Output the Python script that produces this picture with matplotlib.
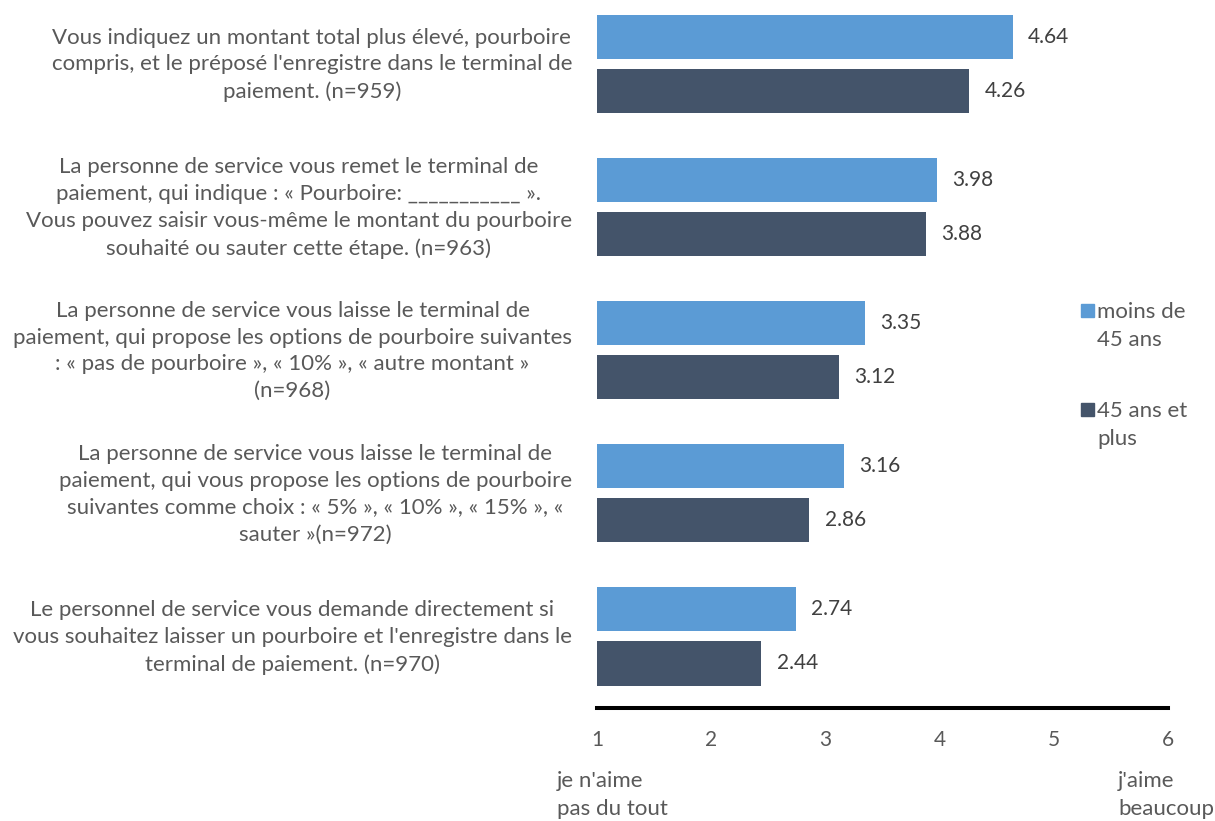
import numpy as np
import matplotlib
matplotlib.use("Agg")
import matplotlib.pyplot as plt
from matplotlib.patches import Rectangle
from matplotlib.transforms import ScaledTranslation

plt.rcParams['font.family'] = ['Lato', 'DejaVu Sans']

# Survey items (top to bottom) and mean scores per age group
questions = [
    "Vous indiquez un montant total plus élevé, pourboire\ncompris, et le préposé l'enregistre dans le terminal de\npaiement. (n=959)",
    "La personne de service vous remet le terminal de\npaiement, qui indique : « Pourboire: ___________ ».\nVous pouvez saisir vous-même le montant du pourboire\nsouhaité ou sauter cette étape. (n=963)",
    "La personne de service vous laisse le terminal de\npaiement, qui propose les options de pourboire suivantes\n: « pas de pourboire », « 10% », « autre montant »\n(n=968)",
    "La personne de service vous laisse le terminal de\npaiement, qui vous propose les options de pourboire\nsuivantes comme choix : « 5% », « 10% », « 15% », «\nsauter »(n=972)",
    "Le personnel de service vous demande directement si\nvous souhaitez laisser un pourboire et l'enregistre dans le\nterminal de paiement. (n=970)",
]
under_45 = [4.64, 3.98, 3.35, 3.16, 2.74]
over_45 = [4.26, 3.88, 3.12, 2.86, 2.44]
series_names = ["moins de\n45 ans", "45 ans et\nplus"]
colors = ["#5B9BD5", "#44546A"]
x_ticks = [1, 2, 3, 4, 5, 6]

text_col = "#595959"
fs = 16
fs_num = 15
ls = 1.43

fig = plt.figure(figsize=(12.15, 8.21), dpi=100)
ax = fig.add_axes([597 / 1215, 1 - 708 / 821, (1168 - 597) / 1215, 708 / 821])

y = np.arange(len(questions))
h = 0.308
off = 0.189
base = 1
b1 = ax.barh(y - off, np.array(under_45) - base, left=base, height=h, color=colors[0])
b2 = ax.barh(y + off, np.array(over_45) - base, left=base, height=h, color=colors[1])
for bars, vals in [(b1, under_45), (b2, over_45)]:
    ax.bar_label(bars, labels=[f"{v:.2f}" for v in vals], padding=11,
                 fontsize=fs_num, color="#404040")

ax.set_xlim(1, 6)
ax.set_ylim(4.5, -64 / 143)
ax.set_xticks(x_ticks)
ax.set_xticklabels([str(t) for t in x_ticks], fontsize=fs_num, color=text_col)
ax.tick_params(axis='x', length=0, pad=16)
ax.set_yticks(y)
ax.set_yticklabels(questions, fontsize=fs, color=text_col,
                   multialignment='center', linespacing=ls)
ax.tick_params(axis='y', length=0, pad=18)
# nudge the wrapped labels up a little
for lab in ax.get_yticklabels():
    lab.set_transform(lab.get_transform() + ScaledTranslation(0, 3.4 / 72, fig.dpi_scale_trans))

for s in ['top', 'right', 'left']:
    ax.spines[s].set_visible(False)
ax.spines['bottom'].set_linewidth(2.9)
ax.spines['bottom'].set_color('black')

# scale end captions
fig.text(557 / 1215, 1 - 771 / 821, "je n'aime\npas du tout", fontsize=fs,
         color=text_col, va='top', ha='left', linespacing=1.5)
fig.text(1118 / 1215, 1 - 771 / 821, "j'aime\nbeaucoup", fontsize=fs,
         color=text_col, va='top', ha='left', linespacing=1.5)

# legend on the right
for i, (name, c) in enumerate(zip(series_names, colors)):
    top = 304 + i * 99
    fig.patches.append(Rectangle((1081 / 1215, 1 - (top + 13) / 821), 13 / 1215, 13 / 821,
                                 transform=fig.transFigure, color=c))
    fig.text(1097 / 1215, 1 - (top - 2) / 821, name, fontsize=fs, color=text_col,
             va='top', ha='left', linespacing=1.5)

fig.savefig("out.png", dpi=100)
